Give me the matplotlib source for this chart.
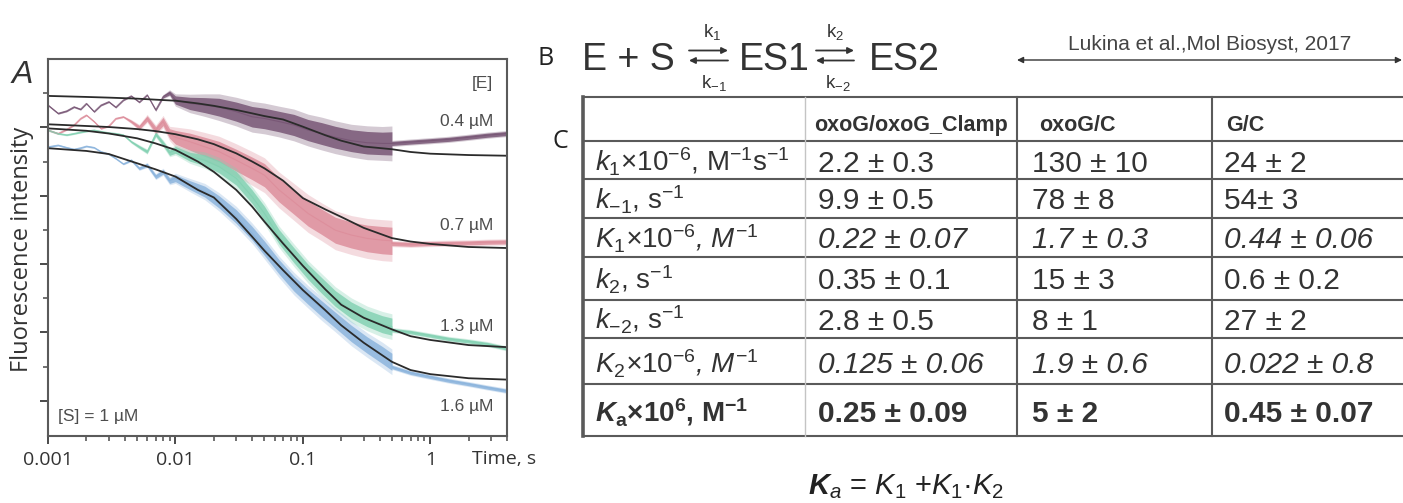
import matplotlib
matplotlib.use('Agg')
import matplotlib.pyplot as plt
from matplotlib.ticker import FixedLocator, FixedFormatter, NullFormatter

plt.rcParams['font.family'] = ['Liberation Sans', 'DejaVu Sans']
plt.rcParams['mathtext.fontset'] = 'custom'
plt.rcParams['mathtext.rm'] = 'Liberation Sans'
plt.rcParams['mathtext.it'] = 'Liberation Sans:italic'
plt.rcParams['mathtext.bf'] = 'Liberation Sans:bold'
plt.rcParams['mathtext.bfit'] = 'Liberation Sans:bold:italic'

##### PANEL A DATA : stopped-flow fluorescence, [S] = 1 uM #####
# raw traces (time in s, intensity in arbitrary units) and noise half-width
t_trace = [0.001, 0.0012, 0.0014, 0.0016, 0.0018, 0.002, 0.0023, 0.0026, 0.003, 0.0034,
           0.0039, 0.0045, 0.0052, 0.006, 0.007, 0.008, 0.009,
           0.01, 0.013, 0.017, 0.022, 0.03, 0.04, 0.05, 0.065, 0.085, 0.11, 0.14, 0.18,
           0.24, 0.32, 0.42, 0.5,
           0.5, 0.7, 1.0, 1.4, 2.0, 2.8, 4.0]

trace_04 = [9.65, 9.41, 9.48, 9.60, 9.53, 9.70, 9.46, 9.65, 9.75, 9.59, 9.80, 9.92, 9.74, 9.95, 9.51, 9.90, 10.01,
            9.80, 9.70, 9.65, 9.59, 9.46, 9.31, 9.26, 9.17, 9.07, 8.92, 8.82, 8.71, 8.61, 8.55, 8.53, 8.53,
            8.53, 8.57, 8.61, 8.65, 8.71, 8.77, 8.82]
trace_07 = [8.92, 8.82, 8.94, 9.07, 9.26, 9.36, 9.17, 8.97, 9.04, 9.26, 9.31, 9.17, 9.00, 9.26, 8.92, 9.17, 8.82,
            8.71, 8.58, 8.43, 8.29, 8.04, 7.80, 7.60, 7.17, 6.82, 6.48, 6.24, 5.99, 5.85, 5.75, 5.70, 5.68,
            5.60, 5.58, 5.60, 5.61, 5.62, 5.64, 5.65]
trace_13 = [8.92, 8.82, 8.78, 8.82, 8.86, 8.89, 8.92, 8.88, 8.84, 8.82, 8.78, 8.58, 8.43, 8.29, 8.80, 8.53, 8.26,
            8.34, 8.14, 8.04, 7.85, 7.51, 6.97, 6.48, 5.80, 5.26, 4.77, 4.38, 3.99, 3.65, 3.41, 3.24, 3.17,
            3.07, 3.01, 2.91, 2.81, 2.74, 2.66, 2.53]
trace_16 = [8.43, 8.48, 8.41, 8.36, 8.40, 8.45, 8.41, 8.29, 8.22, 8.09, 7.93, 8.04, 7.80, 7.90, 7.56, 7.70, 7.44,
            7.51, 7.31, 7.12, 6.82, 6.39, 5.90, 5.46, 4.92, 4.43, 4.04, 3.70, 3.36, 2.97, 2.63, 2.34, 2.14,
            1.99, 1.82, 1.70, 1.59, 1.49, 1.39, 1.29]

noise_04 = [0.02, 0.02, 0.02, 0.02, 0.02, 0.02, 0.02, 0.02, 0.02, 0.02, 0.02, 0.02, 0.02, 0.02, 0.03, 0.04, 0.06,
            0.12, 0.18, 0.22, 0.26, 0.28, 0.30, 0.30, 0.30, 0.31, 0.31, 0.32, 0.32, 0.32, 0.33, 0.33, 0.34,
            0.06, 0.06, 0.06, 0.06, 0.06, 0.06, 0.06]
noise_07 = [0.02, 0.02, 0.02, 0.02, 0.02, 0.02, 0.02, 0.02, 0.02, 0.02, 0.02, 0.04, 0.06, 0.08, 0.10, 0.12, 0.14,
            0.20, 0.25, 0.28, 0.30, 0.32, 0.33, 0.34, 0.35, 0.36, 0.37, 0.37, 0.38, 0.38, 0.39, 0.40, 0.40,
            0.06, 0.06, 0.06, 0.06, 0.06, 0.06, 0.06]
noise_13 = [0.02, 0.02, 0.02, 0.02, 0.02, 0.02, 0.02, 0.02, 0.02, 0.02, 0.02, 0.03, 0.04, 0.05, 0.06, 0.07, 0.08,
            0.10, 0.13, 0.16, 0.18, 0.20, 0.20, 0.21, 0.21, 0.22, 0.22, 0.23, 0.23, 0.24, 0.24, 0.25, 0.25,
            0.05, 0.05, 0.05, 0.05, 0.05, 0.05, 0.05]
noise_16 = [0.02, 0.02, 0.02, 0.02, 0.02, 0.02, 0.02, 0.02, 0.02, 0.02, 0.02, 0.03, 0.04, 0.05, 0.06, 0.07, 0.08,
            0.10, 0.13, 0.16, 0.18, 0.20, 0.20, 0.21, 0.21, 0.22, 0.22, 0.23, 0.23, 0.24, 0.24, 0.25, 0.25,
            0.05, 0.05, 0.05, 0.05, 0.05, 0.05, 0.05]

# fitted curves
t_fit = [0.001, 0.002, 0.003, 0.005, 0.007, 0.01, 0.015, 0.02, 0.03, 0.04, 0.05, 0.07, 0.1,
         0.15, 0.2, 0.3, 0.5, 0.7, 1, 2, 4]
fit_04 = [9.92, 9.89, 9.87, 9.84, 9.81, 9.78, 9.70, 9.63, 9.51, 9.41, 9.33, 9.23, 9.02, 8.77, 8.61, 8.44, 8.36, 8.28, 8.23, 8.19, 8.17]
fit_07 = [9.09, 9.04, 9.01, 8.95, 8.89, 8.80, 8.65, 8.51, 8.24, 8.00, 7.80, 7.44, 6.93, 6.60, 6.38, 6.06, 5.76, 5.66, 5.59, 5.50, 5.47]
fit_13 = [8.97, 8.90, 8.82, 8.68, 8.53, 8.34, 8.00, 7.70, 7.17, 6.68, 6.24, 5.60, 4.95, 4.26, 3.81, 3.43, 3.09, 2.89, 2.78, 2.63, 2.57]
fit_16 = [8.39, 8.31, 8.22, 7.95, 7.77, 7.56, 7.17, 6.95, 6.32, 5.80, 5.39, 4.82, 4.24, 3.65, 3.21, 2.70, 2.14, 1.90, 1.78, 1.66, 1.62]

conc_labels = ['0.4 µM', '0.7 µM', '1.3 µM', '1.6 µM']
conc_label_y = [9.17, 6.14, 3.18, 0.84]
trace_colors = ['#735070', '#dc8a98', '#80d0b0', '#88b2dc']

x_ticks = [0.001, 0.01, 0.1, 1]
x_ticklabels = ['0.001', '0.01', '0.1', '1']
x_minor = [0.002, 0.003, 0.004, 0.005, 0.006, 0.007, 0.008, 0.009,
           0.02, 0.03, 0.04, 0.05, 0.06, 0.07, 0.08, 0.09,
           0.2, 0.3, 0.4, 0.5, 0.6, 0.7, 0.8, 0.9, 2, 3, 4]

##### TABLE DATA #####
col_headers = ['oxoG/oxoG_Clamp', 'oxoG/C', 'G/C']
row_labels = [r'$k_1$×10$^{-6}$, M$^{-1}$s$^{-1}$',
              r'$k_{-1}$, s$^{-1}$',
              r'$\mathit{K_1}$×$\mathit{10^{-6}}$, $\mathit{M^{-1}}$',
              r'$k_2$, s$^{-1}$',
              r'$k_{-2}$, s$^{-1}$',
              r'$\mathit{K_2}$×$\mathit{10^{-6}}$, $\mathit{M^{-1}}$',
              r'$\mathbfit{K}_\mathbf{a}$×10$^\mathbf{6}$, M$^\mathbf{-1}$']
vals_clamp = ['2.2 ± 0.3', '9.9 ± 0.5', '0.22 ± 0.07', '0.35 ± 0.1', '2.8 ± 0.5', '0.125 ± 0.06', '0.25 ± 0.09']
vals_oxoc = ['130 ± 10', '78 ± 8', '1.7 ± 0.3', '15 ± 3', '8 ± 1', '1.9 ± 0.6', '5 ± 2']
vals_gc = ['24 ± 2', '54± 3', '0.44 ± 0.06', '0.6 ± 0.2', '27 ± 2', '0.022 ± 0.8', '0.45 ± 0.07']
row_styles = ['normal', 'normal', 'italic', 'normal', 'normal', 'italic', 'bold']

# ---------------------------------------------------------------------------
W, H = 1403, 503
fig = plt.figure(figsize=(W / 100, H / 100), dpi=100)

ax = fig.add_axes([48 / W, 1 - 436 / H, (507 - 48) / W, (436 - 59) / H])
traces = [trace_04, trace_07, trace_13, trace_16]
noises = [noise_04, noise_07, noise_13, noise_16]
fits = [fit_04, fit_07, fit_13, fit_16]

for tr, nz, col in zip(traces, noises, trace_colors):
    # faint halo for the noise spikes, denser core band on top
    ax.fill_between(t_trace, [a - 1.5 * b for a, b in zip(tr, nz)],
                    [a + 1.5 * b for a, b in zip(tr, nz)], color=col, alpha=0.3, lw=0)
    ax.fill_between(t_trace, [a - b for a, b in zip(tr, nz)],
                    [a + b for a, b in zip(tr, nz)], color=col, alpha=0.8, lw=0)
    ax.plot(t_trace, tr, color=col, lw=0.8, alpha=0.7)

for f in fits:
    ax.plot(t_fit, f, color='#2b2b2b', lw=1.3)

ax.set_xscale('log')
ax.set_xlim(0.001, 4.0)
ax.set_ylim(-0.03, 11.0)
ax.xaxis.set_major_locator(FixedLocator(x_ticks))
ax.xaxis.set_major_formatter(FixedFormatter(x_ticklabels))
ax.xaxis.set_minor_locator(FixedLocator(x_minor))
ax.xaxis.set_minor_formatter(NullFormatter())
ax.yaxis.set_major_locator(FixedLocator([1, 3, 5, 7, 9]))
ax.yaxis.set_minor_locator(FixedLocator([2, 4, 6, 8, 10]))
ax.yaxis.set_major_formatter(NullFormatter())
ax.tick_params(which='major', direction='out', length=6, width=1.4, color='#4a4a4a', pad=5)
ax.tick_params(which='minor', direction='out', length=3.5, width=1.1, color='#4a4a4a')
for lab in ax.get_xticklabels():
    lab.set_fontfamily('Open Sans')
    lab.set_fontsize(14)
    lab.set_color('#333333')
for sp in ax.spines.values():
    sp.set_color('#5a5a5a')
    sp.set_linewidth(1.5)

for lab, y in zip(conc_labels, conc_label_y):
    ax.text(3.12, y, lab, ha='right', va='center', fontsize=12.5, color='#4d4d4d')
ax.text(3.12, 10.29, '[E]', ha='right', va='center', fontsize=12.5, color='#4d4d4d')
ax.text(0.0012, 0.53, '[S] = 1 µM', ha='left', va='center', fontsize=12.5, color='#4d4d4d')

# overlay in pixel coordinates for labels, scheme and table
ov = fig.add_axes([0, 0, 1, 1])
ov.set_xlim(0, W)
ov.set_ylim(H, 0)
ov.axis('off')

ov.text(12, 83, 'A', fontsize=23, style='italic', color='#333333', va='baseline')
ov.text(22, 249, 'Fluorescence intensity', rotation=90, fontsize=17, family='Open Sans',
        color='#333333', ha='center', va='center')
ov.text(472, 459, 'Time, s', fontsize=14, family='Open Sans', color='#333333', va='center')

# scheme B
ov.text(537, 65, 'B', fontsize=18, family='Open Sans', color='#222222', va='baseline')
ov.text(582, 70, 'E + S', fontsize=27, color='#333333', va='baseline')
ov.text(739, 70, 'ES1', fontsize=27, color='#333333', va='baseline')
ov.text(869, 70, 'ES2', fontsize=27, color='#333333', va='baseline')
arrow_kw = dict(arrowstyle='-|>', color='#333333', lw=1.3, mutation_scale=9, shrinkA=0, shrinkB=0)
for x0, x1 in [(689, 728), (816, 854)]:
    ov.annotate('', xy=(x1, 50.5), xytext=(x0, 50.5), arrowprops=arrow_kw)
    ov.annotate('', xy=(x0, 60.5), xytext=(x1, 60.5), arrowprops=arrow_kw)
ov.text(712, 37, r'k$_1$', fontsize=13.5, color='#333333', ha='center', va='baseline')
ov.text(714, 88, r'k$_{-1}$', fontsize=13.5, color='#333333', ha='center', va='baseline')
ov.text(835, 37, r'k$_2$', fontsize=13.5, color='#333333', ha='center', va='baseline')
ov.text(838, 88, r'k$_{-2}$', fontsize=13.5, color='#333333', ha='center', va='baseline')

ov.text(1210, 50, 'Lukina et al.,Mol Biosyst, 2017', fontsize=15, color='#444444',
        ha='center', va='baseline')
ov.annotate('', xy=(1402, 60), xytext=(1017, 60),
            arrowprops=dict(arrowstyle='<|-|>', color='#333333', lw=1.0, mutation_scale=9,
                            shrinkA=0, shrinkB=0))

# table C
ov.text(553, 148, 'C', fontsize=18, family='Open Sans', color='#222222', va='baseline')
row_lines = [97, 141, 179, 218, 257, 300, 338, 384, 436]
col_lines = [583, 805, 1017, 1212]
for y in row_lines:
    ov.plot([583, W], [y, y], color='#5a5a5a', lw=1.5, solid_capstyle='butt')
ov.plot([583, 583], [97, 436], color='#5a5a5a', lw=2.6)
ov.plot([805, 805], [97, 436], color='#c4c4c4', lw=1.0)
for x in col_lines[2:]:
    ov.plot([x, x], [97, 436], color='#5a5a5a', lw=1.5)

header_x = [814, 1039, 1226]
for x, h in zip(header_x, col_headers):
    ov.text(x, 131, h, fontsize=15.5, fontweight='bold', color='#333333', va='baseline')

row_base = [172, 209, 248, 289, 330, 373, 422]
cols = [vals_clamp, vals_oxoc, vals_gc]
val_x = [818, 1032, 1224]
for i, (lab, yb, st) in enumerate(zip(row_labels, row_base, row_styles)):
    kw = dict(fontsize=20, color='#333333', va='baseline')
    if st == 'italic':
        kw['style'] = 'italic'
    if st == 'bold':
        kw['fontweight'] = 'bold'
    ov.text(595, yb, lab, **kw)
    for x, vals in zip(val_x, cols):
        kw['fontsize'] = 21.5
        ov.text(x, yb, vals[i], **kw)

ov.text(808, 494, r'$\mathbfit{K}_\mathit{a}$ = $\mathit{K}_\mathit{1}$ +$\mathit{K}_\mathit{1}$·$\mathit{K}_\mathit{2}$',
        fontsize=21, color='#222222', va='baseline')

plt.savefig('out.png', dpi=100)
